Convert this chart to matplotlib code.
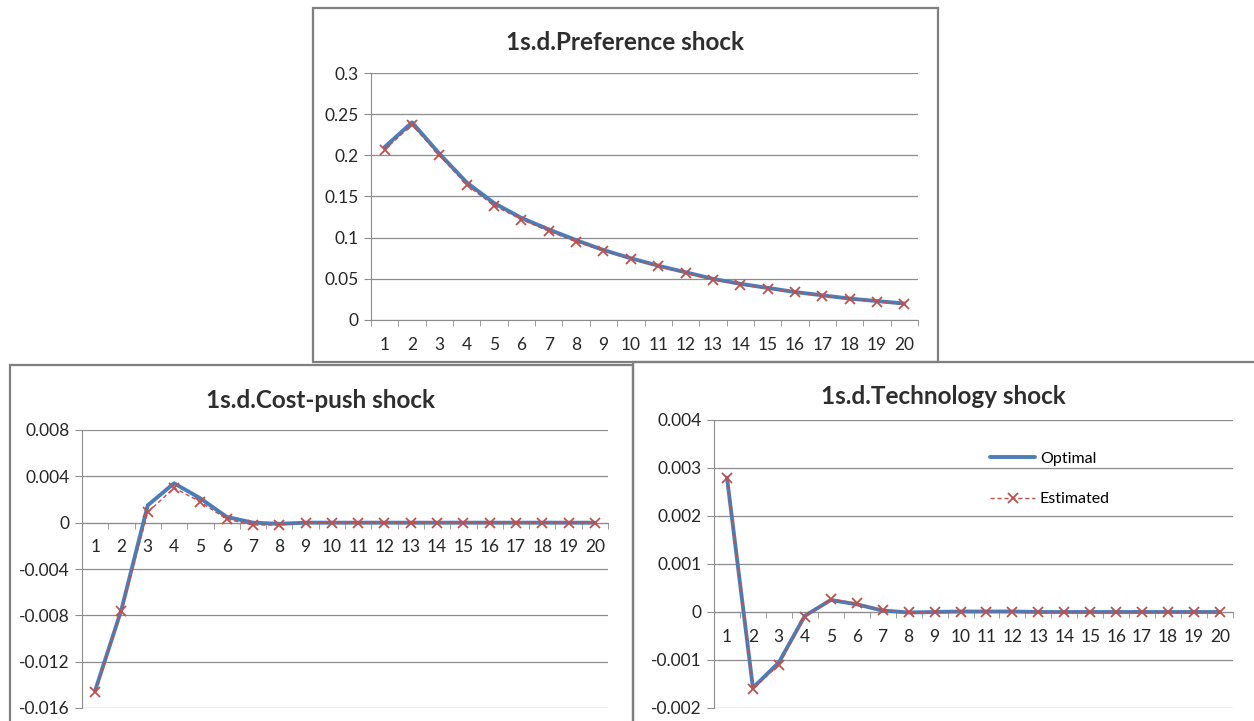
import numpy as np
import matplotlib
matplotlib.use("Agg")
import matplotlib.pyplot as plt
from matplotlib.patches import Rectangle
from matplotlib.ticker import FuncFormatter, MultipleLocator, FixedLocator

plt.rcParams['font.family'] = ['Lato', 'DejaVu Sans']

# impulse responses, periods 1..20
periods = np.arange(1, 21)
pref_opt = [0.210, 0.240, 0.202, 0.167, 0.142, 0.124, 0.110, 0.097, 0.085, 0.075,
            0.066, 0.058, 0.050, 0.044, 0.039, 0.034, 0.030, 0.026, 0.023, 0.020]
pref_est = [0.207, 0.237, 0.200, 0.164, 0.139, 0.122, 0.108, 0.095, 0.084, 0.074,
            0.065, 0.057, 0.049, 0.043, 0.038, 0.034, 0.029, 0.026, 0.022, 0.019]
cost_opt = [-0.0145, -0.0075, 0.0015, 0.0034, 0.0021, 0.0005, 0.0000, -0.0001, 0.0, 0.0,
            0.0, 0.0, 0.0, 0.0, 0.0, 0.0, 0.0, 0.0, 0.0, 0.0]
cost_est = [-0.0146, -0.0076, 0.0009, 0.0030, 0.0018, 0.0003, -0.0002, -0.0002, 0.0, 0.0,
            0.0, 0.0, 0.0, 0.0, 0.0, 0.0, 0.0, 0.0, 0.0, 0.0]
tech_opt = [0.0028, -0.00158, -0.00105, -0.00008, 0.00025, 0.00016, 0.00003, -0.00001, 0.0, 0.00001,
            0.00001, 0.00001, 0.0, 0.0, 0.0, 0.0, 0.0, 0.0, 0.0, 0.0]
tech_est = [0.0028, -0.0016, -0.0011, -0.0001, 0.00027, 0.00018, 0.00004, -0.00001, 0.0, 0.00001,
            0.00001, 0.00001, 0.0, 0.0, 0.0, 0.0, 0.0, 0.0, 0.0, 0.0]

titles = ["1s.d.Preference shock", "1s.d.Cost-push shock", "1s.d.Technology shock"]

BLUE = "#4A7EBB"
RED = "#C0504D"
GRID = "#8C8C8C"

fig = plt.figure(figsize=(12.54, 7.21), dpi=100)
W, H = 1254, 721

def px_box(l, t, r, b):
    return [l / W, 1 - b / H, (r - l) / W, (b - t) / H]

# chart frames
for l, t, r, b in [(313, 8, 938, 362), (10, 365, 633, 730), (633, 362, 1262, 730)]:
    fig.patches.append(Rectangle((l / W, 1 - b / H), (r - l) / W, (b - t) / H,
                                 transform=fig.transFigure, fill=False,
                                 edgecolor="#7F7F7F", lw=1.6, zorder=0))

fmt = FuncFormatter(lambda v, p: "%g" % round(v, 6))

def draw(ax, opt, est, ymin, ymax, step):
    ax.plot(periods, opt, color=BLUE, lw=2.8, label="Optimal", zorder=3,
            solid_capstyle="round")
    ax.plot(periods, est, color=RED, lw=1.0, ls=(0, (3, 2)), marker="x",
            ms=6.5, mew=1.3, label="Estimated", zorder=4)
    ax.set_xlim(0.5, 20.5)
    ax.set_ylim(ymin, ymax)
    ax.yaxis.set_major_locator(MultipleLocator(step))
    ax.yaxis.set_major_formatter(fmt)
    ax.grid(axis="y", color=GRID, lw=0.9)
    ax.set_axisbelow(True)
    for s in ["top", "right"]:
        ax.spines[s].set_visible(False)
    ax.spines["left"].set_color(GRID)
    ax.spines["bottom"].set_color(GRID)
    ax.spines["bottom"].set_position(("data", 0))
    ax.set_xticks(periods)
    ax.xaxis.set_minor_locator(FixedLocator(np.arange(0.5, 21, 1)))
    ax.tick_params(axis="x", which="major", length=0, pad=12, labelsize=12.5,
                   labelcolor="#262626")
    ax.tick_params(axis="x", which="minor", length=4, direction="out",
                   color=GRID)
    ax.tick_params(axis="y", length=5, color=GRID, labelsize=12.5,
                   labelcolor="#262626", pad=4)
    ax.set_facecolor("none")

ax1 = fig.add_axes(px_box(371, 73, 918, 320))
draw(ax1, pref_opt, pref_est, 0, 0.3, 0.05)
ax2 = fig.add_axes(px_box(82, 430, 608, 708))
draw(ax2, cost_opt, cost_est, -0.016, 0.008, 0.004)
ax3 = fig.add_axes(px_box(714, 420, 1233, 708))
draw(ax3, tech_opt, tech_est, -0.002, 0.004, 0.001)

ax3.legend(loc="upper left", bbox_to_anchor=(0.505, 0.94), frameon=False,
           fontsize=11.5, labelspacing=1.65, handlelength=2.8, handletextpad=0.3)

for (x, y), t in zip([(625, 42), (320, 400), (943, 396)], titles):
    fig.text(x / W, 1 - y / H, t, ha="center", va="center", fontsize=17.5,
             fontweight="bold", color="#2E2E2E")

fig.savefig("out.png", dpi=100)
